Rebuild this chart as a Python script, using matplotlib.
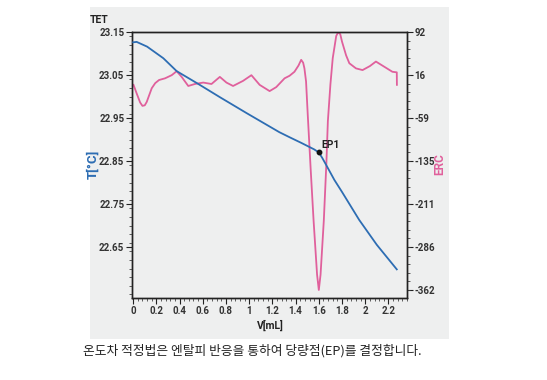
import matplotlib
matplotlib.use("Agg")
import matplotlib.pyplot as plt
from matplotlib.patches import Rectangle
from matplotlib.ticker import MultipleLocator, FixedLocator

plt.rcParams['font.family'] = ['Roboto', 'DejaVu Sans']

# --- data ---
temp_v = [0.0, 0.03, 0.12, 0.26, 0.375, 0.55, 0.75, 0.98, 1.26, 1.35, 1.45,
          1.56, 1.60, 1.63, 1.663, 1.734, 1.80, 1.948, 2.10, 2.272]
temp_t = [23.126, 23.127, 23.116, 23.089, 23.059, 23.031, 22.998, 22.961, 22.917,
          22.905, 22.892, 22.877, 22.870, 22.857, 22.841, 22.806, 22.778, 22.713,
          22.655, 22.598]

erc_v = [0.003, 0.03, 0.06, 0.08, 0.10, 0.117, 0.16, 0.19, 0.223, 0.275, 0.332, 0.375,
         0.418, 0.475, 0.532, 0.604, 0.675, 0.747, 0.804, 0.861, 0.947, 1.019, 1.09,
         1.176, 1.233, 1.305, 1.348, 1.39, 1.425, 1.448, 1.465, 1.476, 1.49, 1.505,
         1.53, 1.555, 1.585, 1.60, 1.615, 1.643, 1.665, 1.678, 1.70, 1.72, 1.75,
         1.768, 1.785, 1.80, 1.835, 1.863, 1.92, 1.977, 2.04, 2.092, 2.163, 2.234,
         2.272, 2.273]
erc_val = [-1, -16, -32, -38, -37, -31, -7, 2, 7.5, 10.5, 16, 23,
           13, -3, 0.5, 3, 0.5, 13, 3, -3, 6, 16, -1,
           -12, -5, 10.5, 15, 22, 33, 43, 38, 28, 5, -55,
           -150, -240, -335, -362, -335, -240, -140, -65, 0, 46, 85,
           92, 88, 75, 51, 37, 28, 25, 32, 40, 31, 22,
           21, -1]

ep_v, ep_t = 1.60, 22.870

x_ticks = [0, 0.2, 0.4, 0.6, 0.8, 1, 1.2, 1.4, 1.6, 1.8, 2, 2.2]
x_tick_labels = ['0', '0.2', '0.4', '0.6', '0.8', '1', '1.2', '1.4', '1.6', '1.8', '2', '2.2']
t_ticks = [22.65, 22.75, 22.85, 22.95, 23.05, 23.15]
erc_ticks = [92, 16, -59, -135, -211, -286, -362]

blue = '#2d6db3'
pink = '#e0609c'
grey_bg = '#eeefef'
tick_col = '#333333'

fig = plt.figure(figsize=(5.47, 3.8), dpi=100)
W, H = 547, 380
fig.patches.append(Rectangle((90 / W, 1 - 339 / H), (449 - 90) / W, (339 - 7) / H,
                             transform=fig.transFigure, facecolor=grey_bg,
                             edgecolor='none', zorder=-5))

ax = fig.add_axes([132 / W, 1 - 298 / H, (407 - 132) / W, (298 - 32) / H])
ax.set_facecolor(grey_bg)
ax2 = ax.twinx()

ax.plot(temp_v, temp_t, color=blue, lw=1.3, zorder=3)
ax2.plot(erc_v, erc_val, color=pink, lw=1.3, zorder=2)
ax.plot([ep_v], [ep_t], 'o', color='#111111', ms=3.2, zorder=5)
ax.annotate('EP1', (ep_v, ep_t), xytext=(2, 3), textcoords='offset points',
            fontsize=7.5, fontweight='bold', color='#222222', zorder=6)

ax.set_zorder(ax2.get_zorder() + 1)
ax.patch.set_visible(False)
ax2.patch.set_visible(True)
ax2.patch.set_facecolor(grey_bg)

ax.set_xlim(-0.01, 2.36)
ax.set_ylim(22.5314, 23.15)
ax2.set_ylim(-376.1, 92)

ax.set_xticks(x_ticks)
ax.set_xticklabels(x_tick_labels)
ax.xaxis.set_minor_locator(MultipleLocator(0.04))
ax.set_yticks(t_ticks)
ax.set_yticklabels([f'{t:.2f}' for t in t_ticks])
ax.yaxis.set_minor_locator(MultipleLocator(0.02))
ax2.set_yticks(erc_ticks)
ax2.set_yticklabels([str(e) for e in erc_ticks])
ax2.yaxis.set_minor_locator(FixedLocator([92 - k * 75.67 / 5 for k in range(0, 31)]))

for a in (ax, ax2):
    for s in a.spines.values():
        s.set_color('#222222')
        s.set_linewidth(1.0)
    a.tick_params(which='major', length=4, width=0.8, colors='#222222',
                  labelsize=7, labelcolor=tick_col, pad=1.5)
    a.tick_params(which='minor', length=2, width=0.6, colors='#444444')
for lbl in ax.get_xticklabels() + ax.get_yticklabels() + ax2.get_yticklabels():
    lbl.set_fontweight('bold')

fig.text(90 / W, 1 - 20 / H, 'TET', fontsize=7.5, fontweight='bold',
         color='#222222', va='center', ha='left')
fig.text(93 / W, 1 - 164 / H, 'T[°C]', fontsize=9.5, fontweight='bold', color=blue,
         rotation=90, va='center', ha='center')
fig.text(440 / W, 1 - 164 / H, 'ERC', fontsize=8.5, fontweight='bold', color=pink,
         rotation=90, va='center', ha='center')
fig.text(270 / W, 1 - 325 / H, 'V[mL]', fontsize=7.5, fontweight='bold',
         color='#222222', va='center', ha='center')
fig.text(83 / W, 1 - 351 / H, '온도차 적정법은 엔탈피 반응을 통하여 당량점(EP)를 결정합니다.',
         fontsize=9.2, family=['Noto Sans CJK KR', 'DejaVu Sans'], color='#222222',
         va='center', ha='left')

fig.savefig('out.png', dpi=100)
